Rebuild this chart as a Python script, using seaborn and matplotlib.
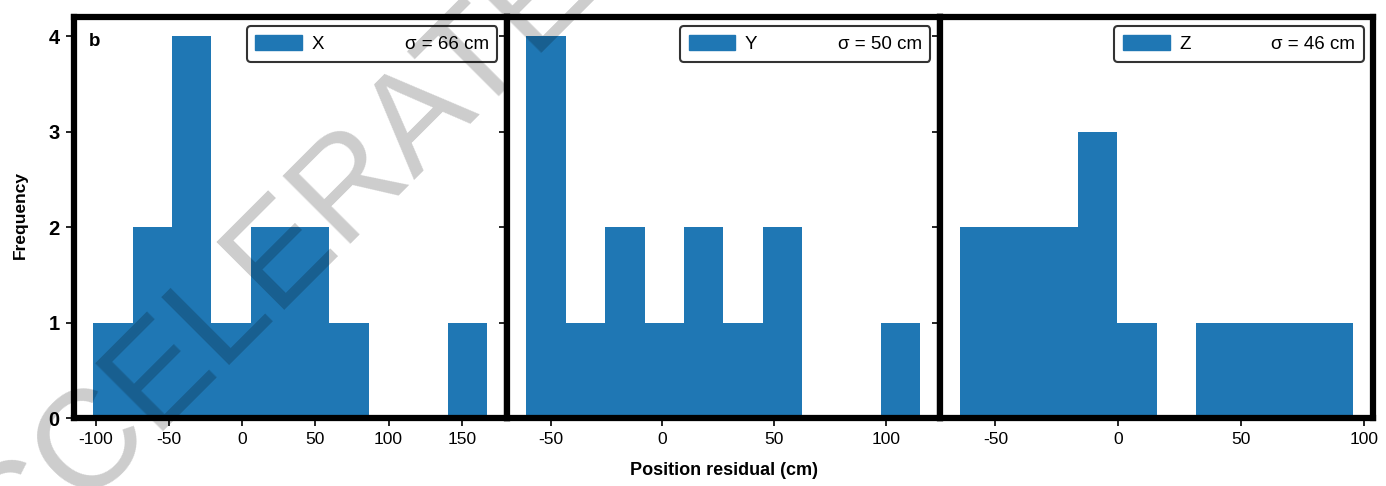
import numpy as np
import pandas as pd
import matplotlib
matplotlib.use("Agg")
import matplotlib.pyplot as plt
import seaborn as sns
from matplotlib.patches import Patch

# ---- data ----
components = ["X", "Y", "Z"]
sigma_labels = ["σ = 66 cm", "σ = 50 cm", "σ = 46 cm"]
x_edges = [-101.8, -74.9, -48.0, -21.1, 5.8, 32.7, 59.6, 86.5, 113.4, 140.3, 167.2]
x_counts = [1, 2, 4, 1, 2, 2, 1, 0, 0, 1]
y_edges = [-60.9, -43.3, -25.6, -8.0, 9.6, 27.3, 44.9, 62.5, 80.1, 97.8, 115.4]
y_counts = [4, 1, 2, 1, 2, 1, 2, 0, 0, 1]
z_edges = [-64.6, -48.6, -32.6, -16.6, -0.5, 15.5, 31.5, 47.5, 63.5, 79.5, 95.5]
z_counts = [2, 2, 2, 3, 1, 0, 1, 1, 1, 1]
y_ticks = [0, 1, 2, 3, 4]
x_ticks = [[-100, -50, 0, 50, 100, 150], [-50, 0, 50, 100], [-50, 0, 50, 100]]

edges_all = [x_edges, y_edges, z_edges]
counts_all = [x_counts, y_counts, z_counts]

sns.set_theme(style="ticks")
plt.rcParams["font.family"] = ["Liberation Sans", "DejaVu Sans"]
plt.rcParams["text.color"] = "black"
plt.rcParams["axes.labelcolor"] = "black"
plt.rcParams["xtick.color"] = "black"
plt.rcParams["ytick.color"] = "black"

BLUE = "#1f77b4"
W, H, DPI = 1386, 486, 100
fig, axes = plt.subplots(1, 3, figsize=(W / DPI, H / DPI), dpi=DPI, sharey=True)
fig.subplots_adjust(left=73.5 / W, right=1373 / W, bottom=1 - 418 / H, top=1 - 17 / H, wspace=0)

for i, ax in enumerate(axes):
    edges = list(edges_all[i])
    centers = [(a + b) / 2 for a, b in zip(edges[:-1], edges[1:])]
    df = pd.DataFrame({"value": centers, "count": counts_all[i]})
    sns.histplot(data=df, x="value", weights="count", bins=edges, ax=ax,
                 color=BLUE, alpha=1, linewidth=0, edgecolor=BLUE)
    ax.set_xlabel("")
    ax.set_ylabel("")
    ax.set_xticks(x_ticks[i])
    ax.set_xticklabels([str(t) for t in x_ticks[i]], fontsize=12.5)
    for sp in ax.spines.values():
        sp.set_visible(True)
        sp.set_linewidth(4.5)
        sp.set_color("black")
        sp.set_zorder(5)
    ax.tick_params(axis="both", direction="out", length=6, width=1.2, pad=4)
    handles = [Patch(facecolor=BLUE, edgecolor=BLUE), Patch(alpha=0)]
    leg = ax.legend(handles=handles, labels=[components[i], sigma_labels[i]], ncol=2,
                    loc="upper right", fontsize=13.5, handlelength=2.5, handleheight=0.9,
                    handletextpad=0.5, columnspacing=1.3, borderpad=0.45,
                    borderaxespad=0.5, fancybox=True, framealpha=1)
    leg.get_frame().set_edgecolor("#333333")
    leg.get_frame().set_linewidth(1.5)
    leg.set_zorder(6)

axes[0].set_yticks(y_ticks)
axes[0].set_yticklabels([str(t) for t in y_ticks], fontsize=14.5, fontweight="bold")
axes[0].set_ylim(0, 4.2)
axes[0].text(0.035, 0.96, "b", transform=axes[0].transAxes, fontsize=13.5,
             fontweight="bold", va="top", ha="left")

fig.text(0.0145, 1 - 215 / H, "Frequency", rotation=90, fontsize=12.5,
         fontweight="bold", ha="center", va="center")
fig.text(724 / W, 1 - 470 / H, "Position residual (cm)", fontsize=13,
         fontweight="bold", ha="center", va="center")

# watermark
fig.text(-79 / W, 1 - 623 / H, "ACCELERATED ARTICLE PREVIEW", rotation=45,
         rotation_mode="anchor", ha="left", va="center", fontsize=101,
         color="black", alpha=0.2, zorder=20)

fig.savefig("out.png", dpi=DPI)
